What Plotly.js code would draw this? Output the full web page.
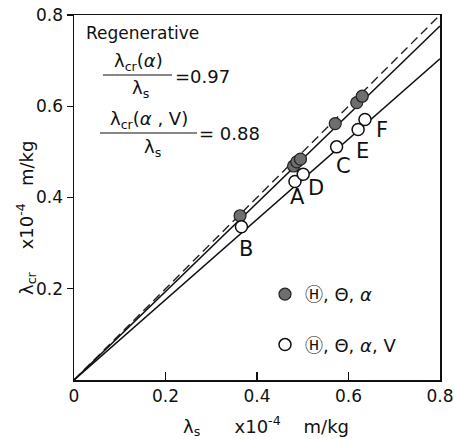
<!DOCTYPE html>
<html>
<head>
<meta charset="utf-8">
<script src="https://cdn.plot.ly/plotly-3.0.1.min.js"></script>
<style>html,body{margin:0;padding:0;background:#fff;}#chart{width:454px;height:439px;}</style>
</head>
<body>
<div id="chart"></div>
<script>
// ---- data ----
const filledX = [0.363, 0.480, 0.487, 0.495, 0.571, 0.618, 0.630];
const filledY = [0.360, 0.469, 0.478, 0.484, 0.562, 0.608, 0.622];
const openLabels = ["B", "A", "D", "C", "E", "F"];
const openX = [0.366, 0.483, 0.501, 0.574, 0.621, 0.636];
const openY = [0.336, 0.435, 0.451, 0.511, 0.549, 0.571];
const lineX = [0, 0.8];
const identityY = [0, 0.8];
const fit097Y = [0, 0.776];
const fit088Y = [0, 0.704];
const xTicks = [0, 0.2, 0.4, 0.6, 0.8];
const xTickText = ["0", "0.2", "0.4", "0.6", "0.8"];
const yTicks = [0.2, 0.4, 0.6, 0.8];
const yTickText = ["0.2", "0.4", "0.6", "0.8"];
const circH = "<span style=\"font-family:'Noto Sans CJK JP';color:#111\">\u24BD</span>";
const legendFilled = circH + ", \u0398, <i>\u03B1</i>";
const legendOpen = circH + ", \u0398, <i>\u03B1</i>, V";

// label offsets (px) for open-point letters
const labelShift = [[5,-22],[3,-15],[13,-14],[7,-19],[4,-21],[17,-11]];

const FONT = "DejaVu Sans, sans-serif";

const traces = [
  {x: lineX, y: identityY, mode: "lines", line: {color: "#222", width: 1.4, dash: "9px,5px"}, showlegend: false, hoverinfo: "skip"},
  {x: lineX, y: fit097Y, mode: "lines", line: {color: "#111", width: 1.6}, showlegend: false, hoverinfo: "skip"},
  {x: lineX, y: fit088Y, mode: "lines", line: {color: "#111", width: 1.6}, showlegend: false, hoverinfo: "skip"},
  {x: filledX, y: filledY, mode: "markers", name: legendFilled, legendgroup: "a",
   marker: {size: 12, color: "#6e6e6e", line: {color: "#222", width: 1.2}}},
  {x: openX, y: openY, mode: "markers", name: legendOpen, legendgroup: "b",
   marker: {size: 12, color: "#ffffff", line: {color: "#111", width: 1.5}}}
];

const annotations = [];
openLabels.forEach((t, i) => {
  annotations.push({x: openX[i], y: openY[i], xref: "x", yref: "y", text: t, showarrow: false,
    xshift: labelShift[i][0], yshift: labelShift[i][1], font: {size: 21, family: FONT, color: "#111"}});
});

function pt(px, py) { return {x: (px - 74) / 366, y: (380 - py) / 365}; }
function addText(px, py, text, size, anchor, angle) {
  const p = pt(px, py);
  annotations.push({x: p.x, y: p.y, xref: "paper", yref: "paper", text: text, showarrow: false,
    xanchor: anchor || "center", yanchor: "middle", textangle: angle || 0,
    font: {size: size, family: FONT, color: "#111"}});
}
addText(84, 33, "Regenerative", 17, "left");
addText(138, 62, "\u03BB<sub>cr</sub>(<i>\u03B1</i>)", 18);
addText(140, 89, "\u03BB<sub>s</sub>", 18);
addText(173, 76, "=0.97", 18, "left");
addText(149, 120, "\u03BB<sub>cr</sub>(<i>\u03B1</i> , V)", 18);
addText(152, 148, "\u03BB<sub>s</sub>", 18);
addText(197, 133, "= 0.88", 18, "left");

// axis titles
addText(266, 426, "\u03BB<sub>s</sub>      x10<sup>-4</sup>    m/kg", 18);
addText(26, 218, "\u03BB<sub>cr</sub>    x10<sup>-4</sup>   m/kg", 18, "center", -90);

const shapes = [
  {type: "line", xref: "paper", yref: "paper", line: {color: "#111", width: 1.2},
   x0: pt(103,0).x, x1: pt(172,0).x, y0: pt(0,75).y, y1: pt(0,75).y},
  {type: "line", xref: "paper", yref: "paper", line: {color: "#111", width: 1.2},
   x0: pt(100,0).x, x1: pt(197,0).x, y0: pt(0,133).y, y1: pt(0,133).y}
];

const layout = {
  width: 454, height: 439,
  margin: {l: 74, r: 14, t: 15, b: 59},
  paper_bgcolor: "#fff", plot_bgcolor: "#fff",
  font: {family: FONT, size: 17, color: "#111"},
  showlegend: true,
  legend: {x: pt(265, 0).x, y: pt(0, 276).y, xanchor: "left", yanchor: "top",
    bgcolor: "rgba(0,0,0,0)", borderwidth: 0, tracegroupgap: 24,
    font: {size: 18, family: FONT, color: "#111"}},
  xaxis: {range: [0, 0.8], showgrid: false, zeroline: false, showline: true, linecolor: "#111", linewidth: 1.5,
    mirror: true, ticks: "inside", ticklen: 8, tickcolor: "#111", tickwidth: 1.2,
    tickvals: xTicks, ticktext: xTickText, tickfont: {size: 17}, ticklabeloverflow: "allow"},
  yaxis: {range: [0, 0.8], showgrid: false, zeroline: false, showline: true, linecolor: "#111", linewidth: 1.5,
    mirror: true, ticks: "outside", ticklen: 6, tickcolor: "#111", tickwidth: 1.2,
    tickvals: yTicks, ticktext: yTickText, tickfont: {size: 17}, ticklabeloverflow: "allow"},
  annotations: annotations,
  shapes: shapes
};

Plotly.newPlot("chart", traces, layout, {staticPlot: true, displayModeBar: false});
</script>
</body>
</html>
